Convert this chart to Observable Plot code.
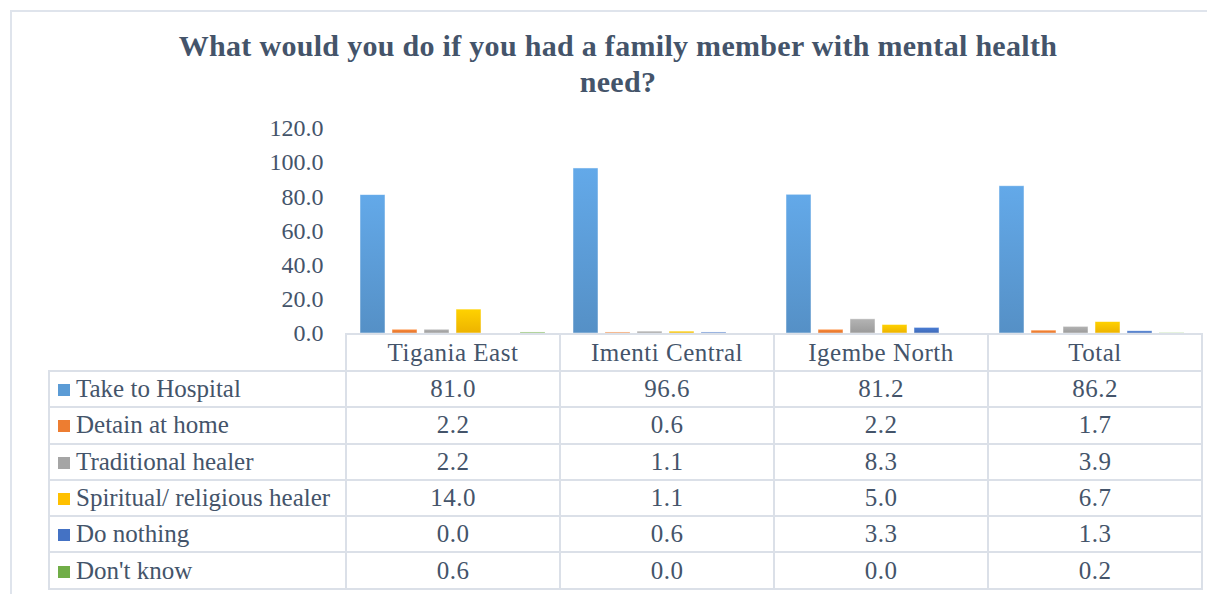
<!DOCTYPE html>
<html>
<head>
<meta charset="utf-8">
<script src="https://cdn.jsdelivr.net/npm/d3@7"></script>
<script src="https://cdn.jsdelivr.net/npm/@observablehq/plot@0.6"></script>
<style>
  html, body { margin: 0; padding: 0; background: #fff; }
  #wrap { position: relative; width: 1207px; height: 594px; overflow: hidden; font-family: "Liberation Serif", "Times New Roman", serif; color: #44546a; }
  #frame { position: absolute; left: 10px; top: 10px; width: 1210px; height: 600px; border: 2px solid #dfe4ec; box-sizing: border-box; }
  #title { position: absolute; left: 30px; width: 1176px; top: 28px; text-align: center; font-weight: bold; font-size: 30px; letter-spacing: 0.3px; line-height: 36px; color: #44546a; }
  #chart { position: absolute; left: 0; top: 0; }
  #chart svg { overflow: visible; }
  #tbl { position: absolute; left: 48px; top: 333px; border-collapse: collapse; font-size: 25px; color: #44546a; }
  #tbl td { border: 2px solid #dbe0e8; height: 34.3px; padding: 0; text-align: center; }
  #tbl tr:first-child td { height: 35px; }
  #tbl td.lab { text-align: left; width: 287px; padding-left: 8px; white-space: nowrap; }
  #tbl td.num { width: 212px; letter-spacing: 0.5px; }
  #tbl td.blank { border: none; border-right: 2px solid #dbe0e8; border-bottom: 2px solid #dbe0e8; }
  .key { display: inline-block; width: 12px; height: 12px; margin-right: 6px; vertical-align: 1px; }
</style>
</head>
<body>
<div id="wrap">
  <div id="frame"></div>
  <div id="title">What would you do if you had a family member with mental health<br>need?</div>
  <div id="chart"></div>
  <table id="tbl"></table>
</div>
<script>
const categories = ["Tigania East", "Imenti Central", "Igembe North", "Total"];
const seriesNames = ["Take to Hospital", "Detain at home", "Traditional healer", "Spiritual/ religious healer", "Do nothing", "Don't know"];
const seriesColors = ["#5b9bd5", "#ed7d31", "#a5a5a5", "#ffc000", "#4472c4", "#70ad47"];
const takeToHospital = [81.0, 96.6, 81.2, 86.2];
const detainAtHome = [2.2, 0.6, 2.2, 1.7];
const traditionalHealer = [2.2, 1.1, 8.3, 3.9];
const spiritualHealer = [14.0, 1.1, 5.0, 6.7];
const doNothing = [0.0, 0.6, 3.3, 1.3];
const dontKnow = [0.6, 0.0, 0.0, 0.2];
const yTicks = [0, 20, 40, 60, 80, 100, 120];

const seriesValues = [takeToHospital, detainAtHome, traditionalHealer, spiritualHealer, doNothing, dontKnow];
const rows = [];
seriesNames.forEach((s, i) => categories.forEach((c, j) => rows.push({series: s, category: c, value: seriesValues[i][j]})));

const chart = Plot.plot({
  width: 1207,
  height: 350,
  marginLeft: 345,
  marginRight: 8,
  marginTop: 128,
  marginBottom: 17,
  style: {fontFamily: "Liberation Serif, Times New Roman, serif", fontSize: "24px", color: "#44546a", background: "transparent", overflow: "visible"},
  fx: {domain: categories, padding: 0, axis: null},
  x: {domain: seriesNames, paddingInner: 0.21, paddingOuter: 0.34, axis: null},
  y: {domain: [0, 120], ticks: yTicks, tickFormat: d => d.toFixed(1), tickSize: 0, tickPadding: 23, label: null},
  color: {domain: seriesNames, range: seriesColors},
  marks: [
    Plot.barY(rows, {fx: "category", x: "series", y: "value", fill: "series", stroke: "#ffffff", strokeOpacity: 0.6, strokeWidth: 0.8})
  ]
});
document.getElementById("chart").appendChild(chart);

// vertical gradients like the original spreadsheet style
const svg = d3.select(chart);
const defs = svg.insert("defs", ":first-child");
const shade = (c, k) => d3.color(c)[k > 0 ? "brighter" : "darker"](Math.abs(k)).formatHex();
seriesColors.forEach((c, i) => {
  const g = defs.append("linearGradient").attr("id", "grad" + i).attr("x1", 0).attr("y1", 0).attr("x2", 0).attr("y2", 1);
  g.append("stop").attr("offset", "0%").attr("stop-color", shade(c, 0.25));
  g.append("stop").attr("offset", "100%").attr("stop-color", shade(c, -0.2));
});
svg.selectAll("rect").each(function() {
  const f = this.getAttribute("fill");
  if (!f) return;
  const idx = seriesColors.indexOf(d3.color(f).formatHex());
  if (idx >= 0) this.setAttribute("fill", "url(#grad" + idx + ")");
});

// data table under the chart
const tbl = d3.select("#tbl");
const head = tbl.append("tr");
head.append("td").attr("class", "blank");
categories.forEach(c => head.append("td").attr("class", "num").text(c));
seriesNames.forEach((s, i) => {
  const tr = tbl.append("tr");
  const lab = tr.append("td").attr("class", "lab");
  lab.append("span").attr("class", "key").style("background", seriesColors[i]);
  lab.append("span").text(s);
  seriesValues[i].forEach(v => tr.append("td").attr("class", "num").text(v.toFixed(1)));
});
</script>
</body>
</html>
